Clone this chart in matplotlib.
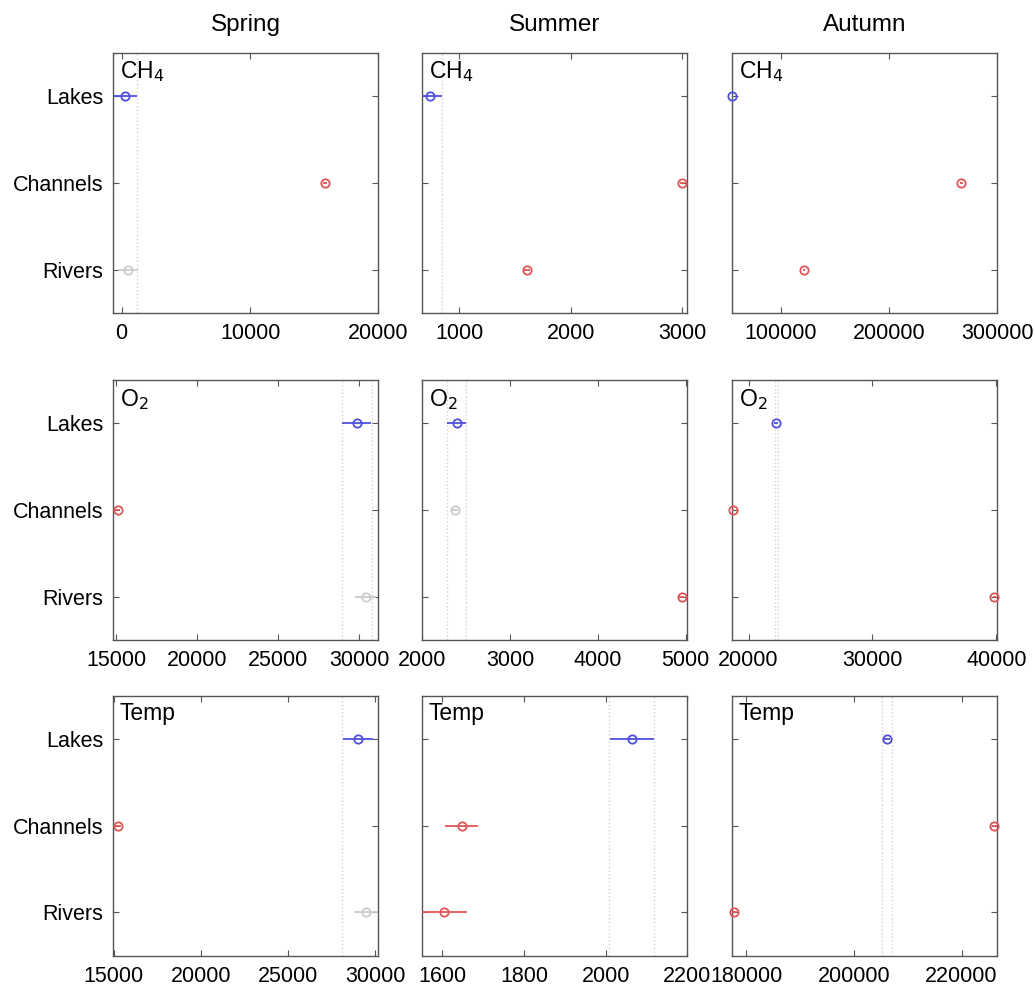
import matplotlib.pyplot as plt

plt.rcParams['font.family'] = ['Liberation Sans', 'DejaVu Sans']

seasons = ['Spring', 'Summer', 'Autumn']
variables = ['CH$_4$', 'O$_2$', 'Temp']
habitats = ['Lakes', 'Channels', 'Rivers']

# values per season, ordered Lakes, Channels, Rivers
ch4_mean = [[250, 15860, 490], [740, 3000, 1606], [55000, 266800, 121500]]
ch4_err = [[910, 150, 800], [110, 20, 25], [800, 1200, 1200]]
ch4_sig = [[1, 1, 0], [1, 1, 1], [1, 1, 1]]
ch4_band = [[-660, 1160], [630, 850], [55000, 55000]]

o2_mean = [[29840, 15100, 30400], [2389, 2370, 4955], [22230, 18740, 39840]]
o2_err = [[900, 150, 650], [105, 30, 30], [150, 100, 100]]
o2_sig = [[1, 1, 0], [1, 0, 1], [1, 1, 1]]
o2_band = [[28900, 30780], [2283, 2495], [22100, 22400]]

temp_mean = [[29000, 15250, 29480], [2064, 1647, 1605], [206120, 226100, 177780]]
temp_err = [[865, 150, 720], [53, 41, 55], [520, 500, 500]]
temp_sig = [[1, 1, 0], [1, 1, 1], [1, 1, 1]]
temp_band = [[28080, 30140], [2007, 2119], [205130, 207110]]

ch4_xlim = [(-670, 20000), (667, 3045), (55000, 300000)]
o2_xlim = [(14790, 31180), (1995, 5020), (18660, 40080)]
temp_xlim = [(14960, 30190), (1550, 2200), (177350, 226650)]

ch4_ticks = [[0, 10000, 20000], [1000, 2000, 3000], [100000, 200000, 300000]]
o2_ticks = [[15000, 20000, 25000, 30000], [2000, 3000, 4000, 5000], [20000, 30000, 40000]]
temp_ticks = [[15000, 20000, 25000, 30000], [1600, 1800, 2000, 2200], [180000, 200000, 220000]]

means = [ch4_mean, o2_mean, temp_mean]
errs = [ch4_err, o2_err, temp_err]
sigs = [ch4_sig, o2_sig, temp_sig]
bands = [ch4_band, o2_band, temp_band]
xlims = [ch4_xlim, o2_xlim, temp_xlim]
ticks = [ch4_ticks, o2_ticks, temp_ticks]

blue = '#4f4fe0'
red = '#e25555'
grey = '#cccccc'
frame = '#555555'

col_left = [0.1092, 0.4077, 0.7072]
row_bottom = [0.6845, 0.3548, 0.0365]
width = 0.2565
height = 0.262

fig = plt.figure(figsize=(10.35, 9.92), dpi=100)

ypos = [3, 2, 1]

for r in range(3):
    for c in range(3):
        ax = fig.add_axes([col_left[c], row_bottom[r], width, height])
        for xb in bands[r][c]:
            ax.axvline(xb, color='#d2d2d2', ls=':', lw=1, zorder=1)
        for k in range(3):
            if k == 0:
                col = blue
            elif sigs[r][c][k]:
                col = red
            else:
                col = grey
            ax.errorbar(means[r][c][k], ypos[k], xerr=errs[r][c][k], fmt='none',
                        ecolor=col, elinewidth=1.3, capsize=0, zorder=3)
            ax.plot(means[r][c][k], ypos[k], 'o', mfc='none', mec=col,
                    ms=6, mew=1.3, clip_on=False, zorder=4)
        ax.set_xlim(*xlims[r][c])
        ax.set_ylim(0.5, 3.5)
        ax.set_xticks(ticks[r][c])
        ax.set_xticklabels([str(t) for t in ticks[r][c]])
        ax.set_yticks(ypos)
        if c == 0:
            ax.set_yticklabels(habitats)
        else:
            ax.set_yticklabels([])
        ax.tick_params(direction='in', top=True, right=True, length=4,
                       color=frame, labelsize=15.5)
        ax.tick_params(axis='x', pad=7)
        ax.tick_params(axis='y', pad=7)
        for s in ax.spines.values():
            s.set_color(frame)
            s.set_linewidth(1)
        ax.text(0.025, 0.975, variables[r], transform=ax.transAxes,
                ha='left', va='top', fontsize=16.5)

for c in range(3):
    fig.text(col_left[c] + width / 2, 0.975, seasons[c], ha='center',
             va='center', fontsize=17.5)

fig.savefig('out.png', dpi=100)
